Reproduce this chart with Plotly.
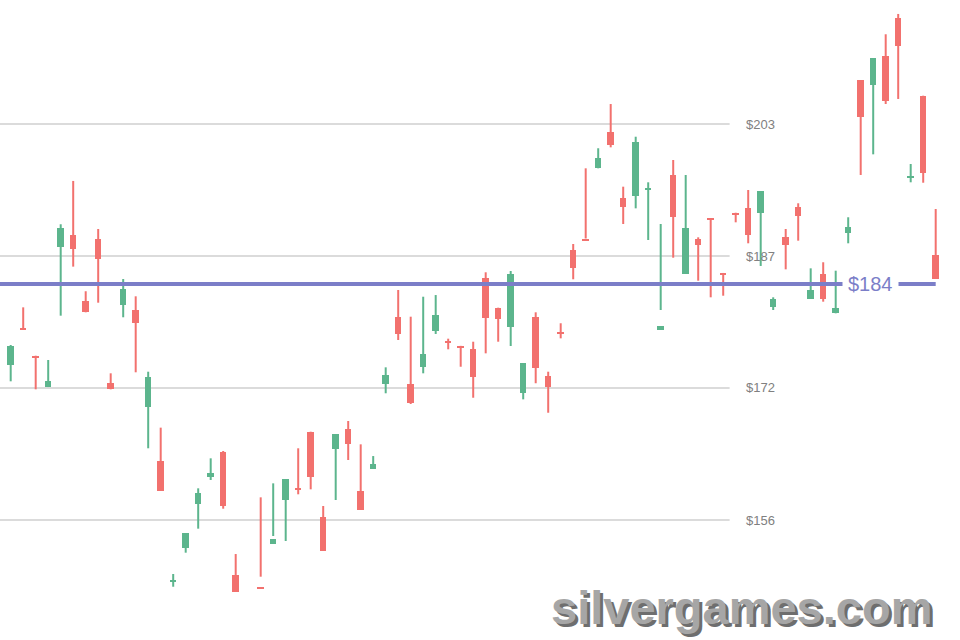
import plotly.graph_objects as go

# ---- data ----
days = list(range(0, 19)) + list(range(20, 75))

opens = [174.36, 178.73, 175.50, 171.78, 188.44, 189.83, 181.99, 189.32, 172.23, 181.52,
         180.92, 169.41, 162.97, 148.64, 152.64, 157.86, 161.14, 164.10, 149.47,
         148.08, 153.11, 158.34, 159.83, 166.48, 156.39, 164.39, 166.80, 159.48, 162.05,
         172.14, 180.13, 172.10, 174.19, 178.47, 177.28, 176.67, 176.26, 184.76, 181.20,
         178.94, 171.04, 180.13, 173.09, 178.28, 188.04, 189.41, 197.74, 202.01, 194.25,
         194.45, 195.17, 178.55, 196.95, 185.20, 189.35, 191.84, 185.32, 192.47, 192.99,
         192.47, 181.24, 189.55, 193.09, 182.23, 185.20, 180.53, 190.10, 208.22, 207.63,
         211.07, 215.55, 196.56, 206.36, 187.45]
highs = [176.77, 181.24, 175.50, 174.99, 191.10, 196.24, 183.15, 190.54, 173.41, 184.60,
         182.55, 173.60, 166.96, 149.59, 154.42, 159.76, 163.32, 164.19, 151.96,
         158.69, 160.35, 160.86, 164.51, 166.48, 157.66, 166.17, 167.75, 164.98, 163.59,
         174.12, 183.30, 180.13, 182.50, 182.70, 177.52, 176.67, 177.16, 185.40, 181.20,
         185.55, 174.60, 180.65, 173.60, 179.35, 188.76, 197.74, 200.12, 205.37, 195.56,
         201.49, 196.08, 191.13, 198.73, 196.95, 189.55, 191.84, 185.32, 192.47, 195.17,
         195.01, 182.43, 190.54, 193.59, 185.87, 186.59, 185.59, 191.93, 208.22, 210.80,
         213.65, 216.06, 198.25, 206.36, 192.91]
lows = [172.46, 178.61, 171.51, 171.78, 180.25, 186.07, 180.65, 181.79, 171.51, 180.06,
        173.53, 164.51, 159.44, 148.08, 152.12, 154.97, 160.75, 157.34, 147.49,
        149.27, 154.10, 153.51, 159.05, 159.64, 152.38, 158.37, 163.12, 157.19, 162.05,
        171.04, 177.36, 169.77, 173.41, 178.08, 176.26, 174.19, 170.51, 175.78, 177.16,
        176.65, 170.32, 172.23, 168.73, 177.56, 184.57, 189.41, 197.74, 200.23, 191.13,
        192.99, 189.23, 180.92, 187.13, 185.20, 184.40, 182.43, 182.62, 191.33, 188.84,
        186.15, 180.92, 185.75, 189.15, 182.23, 181.91, 180.53, 188.84, 196.95, 199.40,
        205.37, 205.97, 196.08, 196.03, 184.60]
closes = [176.71, 178.61, 175.26, 172.50, 190.62, 188.17, 180.65, 186.94, 171.51, 183.38,
          179.42, 172.97, 159.44, 148.88, 154.42, 159.20, 161.54, 157.70, 147.49,
          147.84, 153.78, 160.86, 159.56, 161.14, 152.38, 166.17, 164.98, 157.19, 162.65,
          173.21, 178.08, 169.92, 175.67, 180.33, 177.04, 176.44, 172.94, 179.94, 179.82,
          185.16, 174.60, 174.00, 171.82, 178.04, 185.87, 189.17, 198.93, 200.51, 193.11,
          200.90, 195.40, 179.06, 192.00, 190.62, 188.64, 191.61, 185.08, 192.16, 189.79,
          195.01, 182.19, 188.60, 192.14, 183.30, 182.23, 181.13, 190.81, 203.80, 210.80,
          205.73, 212.26, 196.83, 197.15, 184.60]

current_price = 184
current_label = "$184"
tick_values = [156.0, 171.667, 187.333, 203.0]
tick_labels = ["$156", "$172", "$187", "$203"]
watermark = "silvergames.com"

# ---- style ----
UP = "#5cb58d"
DOWN = "#f2716e"
LINE = "#7b7ec8"
GRID = "#cfcfcf"
x_range = [-0.856, 75.944]
y_range = [141.757, 217.717]

fig = go.Figure()

for up, color in [(True, UP), (False, DOWN)]:
    idx = [i for i in range(len(days)) if (closes[i] >= opens[i]) == up]
    wx, wy = [], []
    for i in idx:
        wx += [days[i], days[i], None]
        wy += [lows[i], highs[i], None]
    fig.add_trace(go.Scatter(x=wx, y=wy, mode="lines",
                             line=dict(color=color, width=2),
                             hoverinfo="skip", showlegend=False))
    fig.add_trace(go.Bar(x=[days[i] for i in idx],
                         y=[max(abs(closes[i] - opens[i]), 0.2) for i in idx],
                         base=[min(opens[i], closes[i]) for i in idx],
                         width=0.52, marker=dict(color=color, line=dict(width=0)),
                         showlegend=False))

shapes = []
for v in tick_values:
    shapes.append(dict(type="line", xref="paper", yref="y", x0=0, x1=0.76, y0=v, y1=v,
                       line=dict(color=GRID, width=1.3), layer="below"))
shapes.append(dict(type="line", xref="x", yref="y", x0=x_range[0], x1=days[-1],
                   y0=current_price, y1=current_price,
                   line=dict(color=LINE, width=4), layer="above"))

annotations = []
for v, t in zip(tick_values, tick_labels):
    annotations.append(dict(x=0.775, xref="paper", y=v, yref="y", text=t,
                            showarrow=False, xanchor="left", yanchor="middle",
                            font=dict(family="Liberation Sans, Arial", size=13, color="#808080")))
annotations.append(dict(x=0.9068, xref="paper", y=current_price, yref="y", text=current_label,
                        showarrow=False, xanchor="center", yanchor="middle",
                        bgcolor="white", borderpad=5,
                        font=dict(family="Liberation Sans, Arial", size=20, color=LINE)))
annotations.append(dict(x=0.7725, xref="paper", y=0.0515, yref="paper", text="<b>" + watermark + "</b>",
                        showarrow=False, xanchor="center", yanchor="middle",
                        font=dict(family="Liberation Sans, Arial", size=47, color="#a6a6a6",
                                  shadow="3px 3px 0px #6e6e6e")))

fig.update_layout(
    width=960, height=640,
    margin=dict(l=0, r=0, t=0, b=0, autoexpand=False),
    paper_bgcolor="white", plot_bgcolor="white",
    barmode="overlay", bargap=0,
    showlegend=False,
    xaxis=dict(range=x_range, visible=False, fixedrange=True),
    yaxis=dict(range=y_range, visible=False, fixedrange=True),
    shapes=shapes, annotations=annotations,
)

fig.write_html("out.html", config={"displayModeBar": False},
               post_script="document.body.style.margin='0';document.body.style.overflow='hidden';")
